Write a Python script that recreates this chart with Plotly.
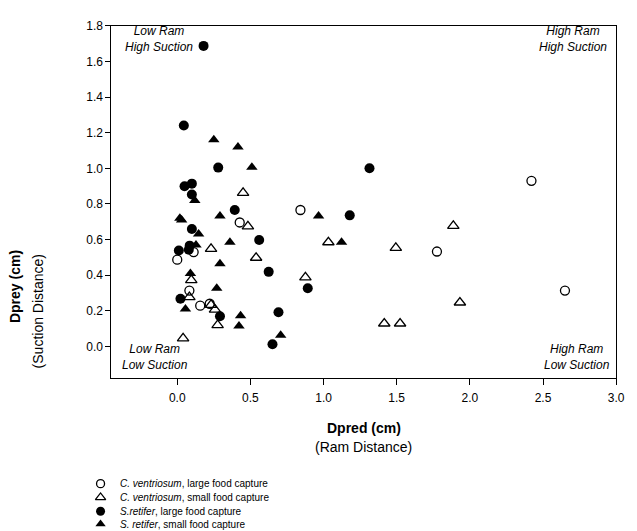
import plotly.graph_objects as go

# ---------------- data ----------------
cv_large_x = [0.00, 0.083, 0.112, 0.157, 0.222, 0.427, 0.842, 1.775, 2.421, 2.650]
cv_large_y = [0.487, 0.314, 0.530, 0.229, 0.240, 0.696, 0.766, 0.533, 0.930, 0.314]

cv_small_x = [0.450, 0.483, 0.231, 0.539, 1.033, 1.494, 1.887, 0.096, 0.876, 0.083,
              0.231, 0.258, 0.276, 0.040, 1.932, 1.415, 1.523]
cv_small_y = [0.862, 0.674, 0.548, 0.498, 0.585, 0.554, 0.677, 0.373, 0.388, 0.277,
              0.234, 0.207, 0.120, 0.046, 0.247, 0.129, 0.129]

sr_large_x = [0.180, 0.045, 0.280, 0.050, 0.100, 0.100, 0.393, 0.100, 0.560, 0.085,
              0.079, 0.011, 0.625, 0.892, 0.022, 0.292, 0.692, 0.651, 1.314, 1.179]
sr_large_y = [1.687, 1.240, 1.004, 0.899, 0.914, 0.853, 0.766, 0.659, 0.598, 0.566,
              0.543, 0.539, 0.419, 0.327, 0.268, 0.170, 0.192, 0.013, 1.000, 0.736]

sr_small_x = [0.250, 0.415, 0.510, 0.120, 0.966, 0.018, 0.030, 0.292, 0.146, 0.360,
              1.123, 0.128, 0.292, 0.090, 0.270, 0.056, 0.433, 0.422, 0.707]
sr_small_y = [1.160, 1.120, 1.006, 0.820, 0.733, 0.720, 0.710, 0.733, 0.631, 0.585,
              0.585, 0.570, 0.465, 0.410, 0.327, 0.210, 0.173, 0.115, 0.063]

legend_labels = [
    "<i>C. ventriosum</i>, large food capture",
    "<i>C. ventriosum</i>, small food capture",
    "<i>S.retifer</i>, large food capture",
    "<i>S. retifer</i>, small food capture",
]
x_ticks = [0.0, 0.5, 1.0, 1.5, 2.0, 2.5, 3.0]
y_ticks = [0.0, 0.2, 0.4, 0.6, 0.8, 1.0, 1.2, 1.4, 1.6, 1.8]

# ---------------- layout helpers ----------------
W, H = 637, 531
FONT = "Arial, Liberation Sans, sans-serif"


def px(x):
    return x / W


def py(y):
    return (H - y) / H


styles = [
    dict(symbol="circle-open", size=9, color="black", line=dict(width=1.3, color="black")),
    dict(symbol="triangle-up-open", size=10, color="black", line=dict(width=1.3, color="black")),
    dict(symbol="circle", size=10, color="black"),
    dict(symbol="triangle-up", size=10, color="black"),
]

fig = go.Figure()
series = [(cv_large_x, cv_large_y), (cv_small_x, cv_small_y),
          (sr_large_x, sr_large_y), (sr_small_x, sr_small_y)]
for (xs, ys), st, name in zip(series, styles, legend_labels):
    fig.add_trace(go.Scatter(x=xs, y=ys, mode="markers", marker=st,
                             name=name, showlegend=False, cliponaxis=False))

# legend drawn on a helper axis in the bottom strip
leg_x = 102
leg_rows = [483, 497, 511, 524]
for i, (st, name) in enumerate(zip(styles, legend_labels)):
    fig.add_trace(go.Scatter(x=[leg_x], y=[leg_rows[i]], mode="markers",
                             marker={**st, "size": st["size"] - 1},
                             xaxis="x2", yaxis="y2", showlegend=False,
                             hoverinfo="skip", cliponaxis=False))
    fig.add_annotation(x=120, y=leg_rows[i], xref="x2", yref="y2", text=name,
                       showarrow=False, xanchor="left", yanchor="middle",
                       font=dict(family=FONT, size=10, color="black"))

# quadrant labels
quads = [
    ("Low Ram<br>High Suction", 161, 32),
    ("High Ram<br>High Suction", 581, 32),
    ("Low Ram<br>Low Suction", 157, 355),
    ("High Ram<br>Low Suction", 585, 355),
]
for txt, qx, qy in quads:
    fig.add_annotation(x=px(qx), y=py(qy), xref="paper", yref="paper", text=f"<i>{txt}</i>",
                       showarrow=False, xanchor="center", yanchor="middle", align="center",
                       font=dict(family=FONT, size=12, color="black"))

# axis titles
fig.add_annotation(x=px(369), y=py(427), xref="paper", yref="paper", text="<b>Dpred (cm)</b>",
                   showarrow=False, xanchor="center", yanchor="middle",
                   font=dict(family=FONT, size=14, color="black"))
fig.add_annotation(x=px(369), y=py(446), xref="paper", yref="paper", text="(Ram Distance)",
                   showarrow=False, xanchor="center", yanchor="middle",
                   font=dict(family=FONT, size=14, color="black"))
fig.add_annotation(x=px(15), y=py(283), xref="paper", yref="paper", text="<b>Dprey (cm)</b>",
                   showarrow=False, xanchor="center", yanchor="middle", textangle=-90,
                   font=dict(family=FONT, size=14, color="black"))
fig.add_annotation(x=px(38), y=py(308), xref="paper", yref="paper", text="(Suction Distance)",
                   showarrow=False, xanchor="center", yanchor="middle", textangle=-90,
                   font=dict(family=FONT, size=14, color="black"))

axis_common = dict(showgrid=False, zeroline=False, showline=True, linecolor="black",
                   linewidth=1, mirror=True, ticks="outside", tickcolor="black",
                   tickwidth=1, tickfont=dict(family=FONT, size=12, color="black"),
                   tickformat=".1f")

fig.update_layout(
    width=W, height=H,
    margin=dict(l=0, r=0, t=0, b=0),
    paper_bgcolor="white", plot_bgcolor="white",
    showlegend=False,
    xaxis=dict(domain=[px(113), px(625)], range=[-0.45, 3.0], tickvals=x_ticks,
               ticklen=6, ticklabelstandoff=3, anchor="y", **axis_common),
    yaxis=dict(domain=[py(376), py(19)], range=[-0.177, 1.8], tickvals=y_ticks,
               ticklen=5, anchor="x", **axis_common),
    xaxis2=dict(domain=[0, 1], range=[0, W], visible=False, anchor="y2", fixedrange=True),
    yaxis2=dict(domain=[0, py(470)], range=[H, 470], visible=False, anchor="x2", fixedrange=True),
)

fig.write_html("out.html")
